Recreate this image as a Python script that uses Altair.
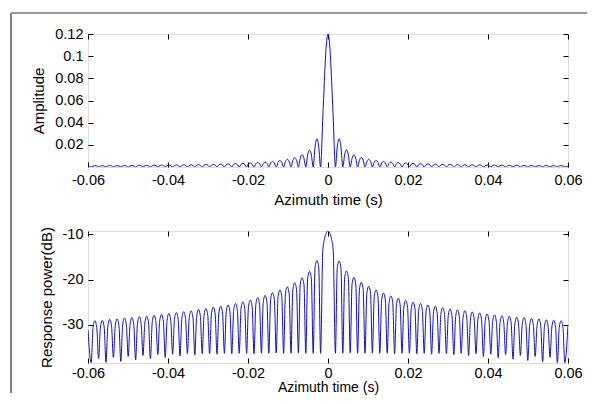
import altair as alt
import pandas as pd

# ---- data ----
# null positions (s) on the positive side (the negative side mirrors them)
null_t = [0.00185, 0.0037, 0.00555, 0.0074, 0.00925, 0.0111, 0.01295, 0.0148,
          0.01665, 0.0185, 0.02035, 0.0222, 0.02405, 0.0259, 0.02775, 0.0296,
          0.03145, 0.0333, 0.03515, 0.037, 0.03885, 0.0407, 0.04255, 0.0444,
          0.04625, 0.0481, 0.04995, 0.0518, 0.05365, 0.0555, 0.05735, 0.0592]

# main lobe
main_t = [-0.0013, -0.0009, -0.0005, 0.0, 0.0005, 0.0009, 0.0013]
main_amp = [0.045, 0.078, 0.106, 0.12, 0.106, 0.078, 0.045]
main_db = [-13.5, -11.1, -9.8, -9.25, -9.8, -11.1, -13.5]

# side-lobe peaks, amplitude (right / left)
pk_amp_r = [0.0255, 0.0155, 0.0110, 0.0086, 0.0070, 0.0059, 0.0051, 0.0045, 0.0040,
            0.0036, 0.0033, 0.0030, 0.0028, 0.0026, 0.0024, 0.0023, 0.0021, 0.0020,
            0.0019, 0.0018, 0.0017, 0.0017, 0.0016, 0.0015, 0.0015, 0.0014, 0.0014,
            0.0013, 0.0013, 0.0012, 0.0012]
pk_amp_l = [0.0255, 0.0154, 0.0111, 0.0085, 0.0070, 0.0059, 0.0051, 0.0045, 0.0040,
            0.0036, 0.0033, 0.0030, 0.0028, 0.0026, 0.0024, 0.0023, 0.0021, 0.0020,
            0.0019, 0.0018, 0.0017, 0.0017, 0.0016, 0.0015, 0.0015, 0.0014, 0.0014,
            0.0013, 0.0013, 0.0012, 0.0012]
edge_amp_r = 0.0008
edge_amp_l = 0.0006

# side-lobe peaks, response power in dB (right / left)
pk_db_r = [-15.9, -18.1, -19.5, -20.6, -21.5, -22.3, -23.0, -23.6, -24.1, -24.6,
           -25.0, -25.3, -25.6, -25.9, -26.2, -26.5, -26.7, -26.9, -27.2, -27.4,
           -27.6, -27.8, -28.0, -28.1, -28.3, -28.4, -28.6, -28.7, -28.9, -29.0, -29.1]
pk_db_l = [-15.8, -18.2, -19.6, -20.7, -21.6, -22.3, -22.9, -23.5, -24.0, -24.5,
           -24.9, -25.3, -25.6, -25.9, -26.1, -26.4, -26.6, -26.9, -27.1, -27.3,
           -27.5, -27.7, -27.9, -28.1, -28.2, -28.4, -28.5, -28.7, -28.8, -29.0, -29.1]
edge_db_r = -30.0
edge_db_l = -31.2

# null depths in dB (right / left)
nl_db_r = [-36.3, -36.3, -36.2, -36.3, -36.3, -36.2, -36.3, -36.3, -36.4, -36.3,
           -36.3, -36.4, -36.3, -36.5, -36.3, -36.4, -36.6, -36.3, -36.8, -36.4,
           -37.0, -36.5, -37.3, -36.6, -37.6, -36.8, -37.9, -37.0, -38.2, -37.2,
           -38.4, -38.4]
nl_db_l = [-36.3, -36.3, -36.3, -36.2, -36.3, -36.3, -36.2, -36.3, -36.3, -36.4,
           -36.3, -36.3, -36.4, -36.3, -36.5, -36.4, -36.4, -36.7, -36.4, -36.9,
           -36.5, -37.2, -36.6, -37.5, -36.8, -37.8, -37.0, -38.1, -37.2, -38.3,
           -37.5, -38.4]

# lobe arch shape (shoulders at 1/4 and 3/4 of a lobe)
SHOULDER_AMP = 0.71
SHOULDER_DB = -1.5

x_ticks = [-0.06, -0.04, -0.02, 0.0, 0.02, 0.04, 0.06]
amp_ticks = [0.02, 0.04, 0.06, 0.08, 0.1, 0.12]
db_ticks = [-30, -20, -10]


def side(nulls_db, peaks_db, edge_db, peaks_amp, edge_amp):
    pts = []
    for i, t0 in enumerate(null_t):
        pts.append((t0, 0.0, nulls_db[i]))
        if i + 1 < len(null_t):
            t1 = null_t[i + 1]
            for f, fa, fd in [(0.25, SHOULDER_AMP, SHOULDER_DB), (0.5, 1.0, 0.0),
                              (0.75, SHOULDER_AMP, SHOULDER_DB)]:
                pts.append((t0 + f * (t1 - t0), peaks_amp[i] * fa, peaks_db[i] + fd))
    pts.append((0.06, edge_amp, edge_db))
    return pts


right = side(nl_db_r, pk_db_r, edge_db_r, pk_amp_r, edge_amp_r)
left = [(-t, a, d) for (t, a, d) in side(nl_db_l, pk_db_l, edge_db_l, pk_amp_l, edge_amp_l)][::-1]
mid = list(zip(main_t, main_amp, main_db))
pts = left + mid + right
df = pd.DataFrame(pts, columns=["t", "amp", "db"])

BLUE = "#1010b8"
FONT = "Liberation Sans"
xscale = alt.Scale(domain=[-0.06, 0.06], nice=False, zero=False)
LBL = "replace(format(datum.value, '.2~f'), '\u2212', '-')"


def ax(orient, values, title=None, labels=True, lpad=5, tsize=15, **kw):
    return alt.Axis(orient=orient, values=values, offset=-5, tickSize=5,
                    tickColor="#000", domain=False, grid=False, labels=labels,
                    labelExpr=LBL, labelFlush=False, labelFont=FONT, labelFontSize=14.5,
                    labelColor="#000", labelPadding=lpad,
                    title=title, titleFont=FONT, titleFontSize=tsize, titleFontWeight="normal",
                    titleColor="#000", **kw)


def panel(field, yscale, yvals, ytitle, ytitle_x, xlpad, xtitle_y, xtsize, frame=False):
    base = alt.Chart(df)
    line = base.mark_line(color=BLUE, strokeWidth=1, interpolate="monotone", clip=True).encode(
        x=alt.X("t:Q", scale=xscale,
                axis=ax("bottom", x_ticks, "Azimuth time (s)", lpad=xlpad, tsize=xtsize,
                        titleY=xtitle_y, titleBaseline="top")),
        y=alt.Y(f"{field}:Q", scale=yscale,
                axis=ax("left", yvals, ytitle, titleX=ytitle_x, titleAngle=270,
                        titleBaseline="middle", titleAlign="center")),
    )
    mirror = base.mark_line(opacity=0).encode(
        x=alt.X("t:Q", scale=xscale, axis=ax("top", x_ticks, labels=False)),
        y=alt.Y(f"{field}:Q", scale=yscale, axis=ax("right", yvals, labels=False)),
    )
    layers = [line, mirror]
    if frame:
        one = alt.Chart(pd.DataFrame({"a": [0]}))
        layers.append(one.mark_rule(color="#333333", strokeWidth=1).encode(
            x=alt.value(-77), x2=alt.value(500), y=alt.value(-21)))
        layers.append(one.mark_rule(color="#808080", strokeWidth=2).encode(
            x=alt.value(-77), y=alt.value(-21), y2=alt.value(359)))
    return alt.layer(*layers).resolve_axis(x="independent", y="independent")


top = panel("amp", alt.Scale(domain=[0, 0.12], nice=False, zero=False), amp_ticks,
            "Amplitude", -55, 6, 30.5, 15, frame=True).properties(width=480, height=133)
bottom = panel("db", alt.Scale(domain=[-38.45, -9.25], nice=False, zero=False), db_ticks,
               "Response power(dB)", -47, 3, 22.5, 14).properties(width=480, height=132)

chart = alt.vconcat(top, bottom, spacing=64, bounds="flush").properties(
    padding={"left": 1, "top": 3, "right": -2, "bottom": 0}
).configure_view(stroke="#000", strokeWidth=1).configure(background="white")

chart.save("out.html", embed_options={"renderer": "svg", "actions": False})
